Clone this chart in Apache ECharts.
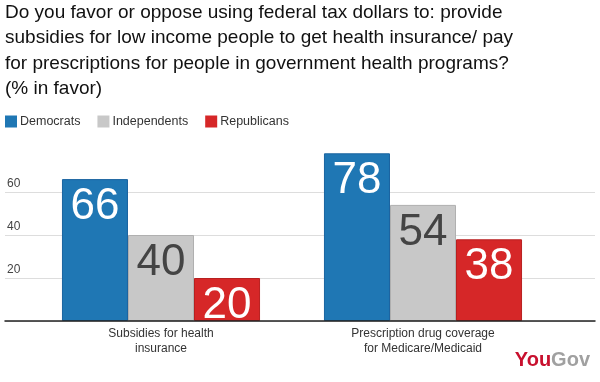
<!DOCTYPE html>
<html><head><meta charset="utf-8">
<script src="https://cdn.jsdelivr.net/npm/echarts@6/dist/echarts.min.js"></script>
<style>html,body{margin:0;padding:0;background:#fff}#c{width:600px;height:382px}</style>
</head><body><div id="c"></div>
<script>
var titleText = 'Do you favor or oppose using federal tax dollars to: provide\nsubsidies for low income people to get health insurance/ pay\nfor prescriptions for people in government health programs?\n(% in favor)';
var categories = ['Subsidies for health\ninsurance', 'Prescription drug coverage\nfor Medicare/Medicaid'];
var seriesNames = ['Democrats', 'Independents', 'Republicans'];
var democrats = [66, 78];
var independents = [40, 54];
var republicans = [20, 38];
var yTicks = [0, 20, 40, 60, 80];

var colors = ['#1f77b4', '#c8c8c8', '#d62728'];
var borders = ['#1a64a0', '#b0b0b0', '#b82020'];
var labelColors = ['#ffffff', '#444444', '#ffffff'];
var values = [democrats, independents, republicans];

var font = 'Arial, "Liberation Sans", sans-serif';
var chart = echarts.init(document.getElementById('c'), null, {renderer: 'canvas'});
var series = seriesNames.map(function (n, i) {
  return {
    name: n, type: 'bar', xAxisIndex: 1, yAxisIndex: 1,
    data: values[i], barGap: '0%', barCategoryGap: '24.4%',
    itemStyle: {color: colors[i], borderColor: borders[i], borderWidth: 1},
    label: {show: true, position: 'insideTop', distance: 6, color: labelColors[i],
      fontSize: 44, fontFamily: font},
    emphasis: {disabled: true}, animation: false
  };
});
chart.setOption({
  animation: false,
  title: {text: titleText, left: 5, top: 0, padding: 0,
    textStyle: {fontFamily: font, fontSize: 19, fontWeight: 'normal', color: '#111', lineHeight: 25.5}},
  legend: {left: 5, top: 115, padding: 0, itemWidth: 12, itemHeight: 12, itemGap: 17,
    icon: 'rect', data: seriesNames, itemStyle: {borderWidth: 0},
    textStyle: {fontFamily: font, fontSize: 12.5, color: '#333', padding: [0, 0, 0, -2]}},
  grid: [
    {left: 5, right: 5, top: 149, bottom: 61},
    {left: 30, right: 46, top: 149, bottom: 61}
  ],
  xAxis: [
    {gridIndex: 0, type: 'category', data: [''], axisLine: {show: true, lineStyle: {color: '#222', width: 1.5}},
      axisTick: {show: false}, axisLabel: {show: false}, z: 5},
    {gridIndex: 1, type: 'category', data: categories, axisLine: {show: false},
      axisTick: {show: false},
      axisLabel: {margin: 5, fontFamily: font, fontSize: 12, color: '#333', lineHeight: 15}}
  ],
  yAxis: [
    {gridIndex: 0, type: 'value', min: yTicks[0], max: yTicks[yTicks.length - 1], interval: 20,
      axisLine: {show: false}, axisTick: {show: false},
      splitLine: {lineStyle: {color: ['#dddddd', '#dddddd', '#dddddd', '#dddddd', 'transparent']}},
      axisLabel: {inside: true, showMinLabel: false, showMaxLabel: false, verticalAlign: 'bottom',
        margin: 2, padding: [0, 0, 2, 0], fontFamily: font, fontSize: 12, color: '#444'}},
    {gridIndex: 1, type: 'value', min: yTicks[0], max: yTicks[yTicks.length - 1], interval: 20, show: false,
      splitLine: {show: false}}
  ],
  series: series,
  graphic: [{
    type: 'text', right: 10, bottom: 12,
    style: {text: '{a|You}{b|Gov}', rich: {
      a: {fill: '#c8102e', fontSize: 20, fontWeight: 'bold', fontFamily: font},
      b: {fill: '#a0a0a0', fontSize: 20, fontWeight: 'bold', fontFamily: font}}}
  }]
});
</script></body></html>
